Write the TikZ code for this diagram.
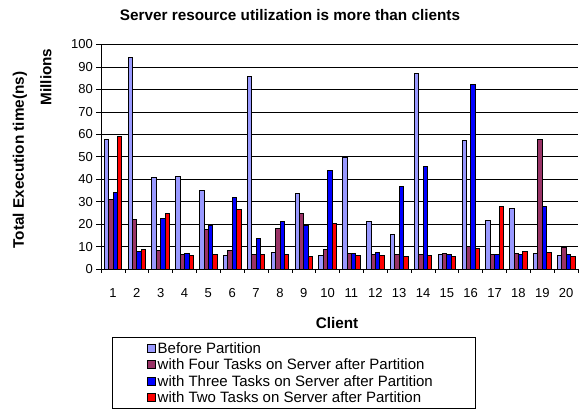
\documentclass[tikz,border=0pt]{standalone}
\usepackage{fontspec}
\setmainfont{Liberation Sans}
\definecolor{cBefore}{HTML}{9999FF}
\definecolor{cFour}{HTML}{993366}
\definecolor{cThree}{HTML}{0000FF}
\definecolor{cTwo}{HTML}{FF0000}
\begin{document}
\begin{tikzpicture}[x=1pt,y=1pt,
  barbox/.style={draw=black,line width=0.45pt},
  gridline/.style={draw=black,line width=0.6pt},
  axisline/.style={draw=black,line width=0.6pt},
  ticklbl/.style={font=\fontsize{13}{13}\selectfont,inner sep=0pt},
  titlelbl/.style={font=\bfseries\fontsize{15.3}{16}\selectfont,inner sep=0pt},
  axtitle/.style={font=\bfseries\fontsize{15.3}{16}\selectfont,inner sep=0pt},
  leglbl/.style={font=\fontsize{15}{15}\selectfont,inner sep=0pt,anchor=west},
  swatch/.style={draw=black,line width=0.45pt,minimum size=8pt,inner sep=0pt}]
\useasboundingbox (0,0) rectangle (580,409);
\fill[white] (0,0) rectangle (580,409);
% gridlines
\foreach \v in {10,20,...,100} {
  \draw[gridline] (101,140+2.245*\v) -- (578,140+2.245*\v);
}
% bars
\foreach \k/\a/\b/\c/\d in {
 1/58/31/34/59, 2/94.3/22/8/8.6, 3/41/8.5/22.4/25, 4/41.2/6.8/7/6,
 5/35.3/17.8/19.6/6.4, 6/6.3/8.5/31.8/26.5, 7/85.8/6.4/13.8/6.7,
 8/7.6/18.2/21.5/6.7, 9/33.8/24.9/19.7/5.8, 10/6.2/8.9/43.8/20.5,
 11/49.9/7.1/7/6.2, 12/21.2/6.8/7.3/6.2, 13/15.7/6.4/36.9/5.6,
 14/87/6.4/45.8/6.2, 15/6.5/7.1/6.7/5.9, 16/57.4/10.2/82.3/9.3,
 17/21.7/6.7/6.4/28, 18/27/7/6.8/8, 19/7.1/57.6/28/7.4, 20/6.2/9.6/6.7/5.9} {
  \pgfmathsetmacro\xs{101+23.85*(\k-1)+3}
  \filldraw[barbox,fill=cBefore] (\xs,140) rectangle ++(4.4,2.245*\a);
  \filldraw[barbox,fill=cFour] (\xs+4.4,140) rectangle ++(4.4,2.245*\b);
  \filldraw[barbox,fill=cThree] (\xs+8.8,140) rectangle ++(4.4,2.245*\c);
  \filldraw[barbox,fill=cTwo] (\xs+13.2,140) rectangle ++(4.4,2.245*\d);
}
% axes
\draw[axisline] (101,140) -- (101,364.5);
\draw[axisline] (101,140) -- (578,140);
\foreach \v in {0,10,...,100} {
  \draw[axisline] (96,140+2.245*\v) -- (101,140+2.245*\v);
  \node[ticklbl,anchor=east] (yl\v) at (93,140+2.245*\v) {\v};
}
\foreach \k in {0,...,20} {
  \draw[axisline] (101+23.85*\k,140) -- (101+23.85*\k,136);
}
\foreach \k in {1,...,20} {
  \node[ticklbl] (xl\k) at (101+23.85*\k-11.9,116) {\k};
}
% titles
\node[titlelbl] (title) at (290,394) {Server resource utilization is more than clients};
\node[axtitle,rotate=90] (ytitle) at (20,249) {Total Execution time(ns)};
\node[axtitle,rotate=90] (millions) at (46,332) {Millions};
\node[axtitle] (xtitle) at (337,86) {Client};
% legend
\draw[black,line width=0.6pt] (112,1) rectangle (475,72);
\node[swatch,fill=cBefore] (s1) at (151,61) {};
\node[swatch,fill=cFour] (s2) at (151,44.5) {};
\node[swatch,fill=cThree] (s3) at (151,28) {};
\node[swatch,fill=cTwo] (s4) at (151,11.5) {};
\node[leglbl] (l1) at (157.5,61) {Before Partition};
\node[leglbl] (l2) at (157.5,44.5) {with Four Tasks on Server after Partition};
\node[leglbl] (l3) at (157.5,28) {with Three Tasks on Server after Partition};
\node[leglbl] (l4) at (157.5,11.5) {with Two Tasks on Server after Partition};
\end{tikzpicture}
\end{document}
